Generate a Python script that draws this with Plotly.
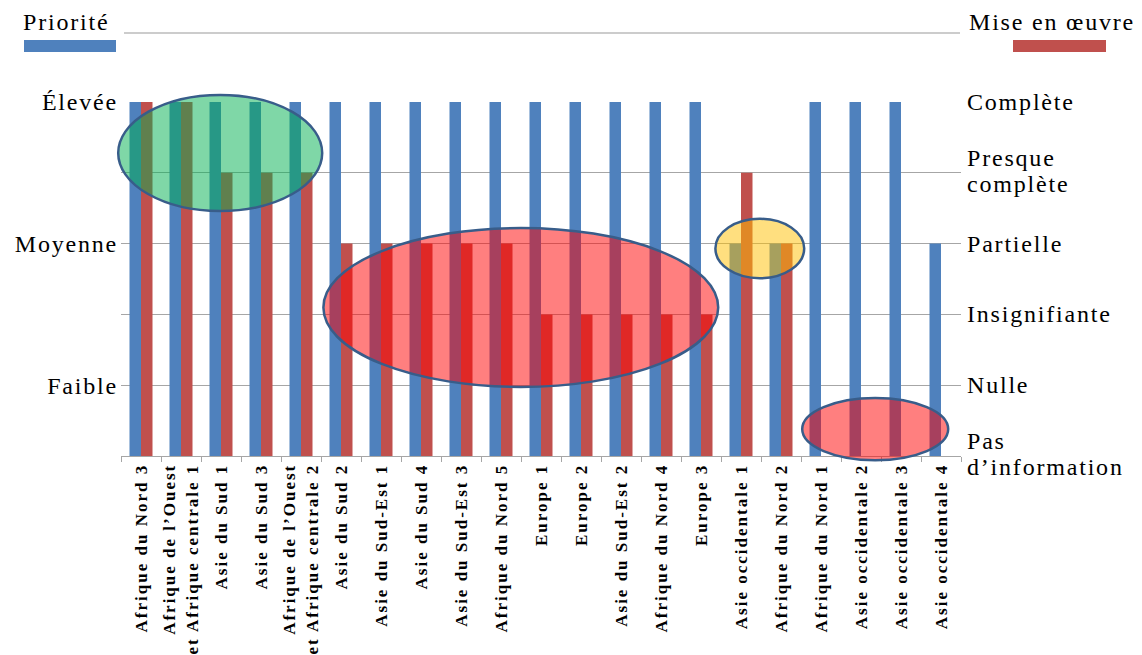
import plotly.graph_objects as go

# ---------------- data ----------------
categories = [
    "Afrique du Nord 3", "Afrique de l’Ouest\net Afrique centrale 1", "Asie du Sud 1",
    "Asie du Sud 3", "Afrique de l’Ouest\net Afrique centrale 2", "Asie du Sud 2",
    "Asie du Sud-Est 1", "Asie du Sud 4", "Asie du Sud-Est 3", "Afrique du Nord 5",
    "Europe 1", "Europe 2", "Asie du Sud-Est 2", "Afrique du Nord 4", "Europe 3",
    "Asie occidentale 1", "Afrique du Nord 2", "Afrique du Nord 1",
    "Asie occidentale 2", "Asie occidentale 3", "Asie occidentale 4",
]
priorite = [5, 5, 5, 5, 5, 5, 5, 5, 5, 5, 5, 5, 5, 5, 5, 3, 3, 5, 5, 5, 3]
mise_en_oeuvre = [5, 5, 4, 4, 4, 3, 3, 3, 3, 3, 2, 2, 2, 2, 2, 4, 3, 0, 0, 0, 0]
level_values = [0, 1, 2, 3, 4, 5]
priority_labels = ["", "Faible", "", "Moyenne", "", "Élevée"]
implementation_labels = ["Pas\nd’information", "Nulle", "Insignifiante",
                         "Partielle", "Presque\ncomplète", "Complète"]

# highlight ellipses in data units (category position, level)
ellipses = [
    dict(x0=-0.57, x1=4.53, y0=3.46, y1=5.10, fill="rgba(0,176,80,0.5)"),
    dict(x0=4.56, x1=14.43, y0=0.975, y1=3.22, fill="rgba(255,0,0,0.5)"),
    dict(x0=14.36, x1=16.58, y0=2.51, y1=3.35, fill="rgba(255,192,0,0.5)"),
    dict(x0=16.53, x1=20.18, y0=-0.06, y1=0.82, fill="rgba(255,0,0,0.5)"),
]

# ---------------- layout geometry ----------------
W_FIG, H_FIG = 1142, 655
L, R, T, B = 121, 181, 102, 199
PW, PH = W_FIG - L - R, H_FIG - T - B
N = len(categories)
YMAX = 5

BLUE = "#4f81bd"
RED = "#c0504d"
SERIF = "Liberation Serif, Times New Roman, Times, serif"
LABEL_SIZE = 24
LABEL_SP = 1.8


def spaced(text, sp):
    return "<br>".join(
        f'<span style="letter-spacing:{sp}px">{line}</span>' for line in text.split("\n")
    )


def px_x(p):
    return (p - L) / PW


def px_y(p):
    return (T + PH - p) / PH


fig = go.Figure()
fig.add_trace(go.Bar(x=categories, y=priorite, name="Priorité",
                     marker=dict(color=BLUE, line=dict(width=0)), hoverinfo="skip"))
fig.add_trace(go.Bar(x=categories, y=mise_en_oeuvre, name="Mise en œuvre",
                     marker=dict(color=RED, line=dict(width=0)), hoverinfo="skip"))

shapes = []
for e in ellipses:
    shapes.append(dict(
        type="circle", xref="paper", yref="paper", layer="above",
        x0=(e["x0"] + 0.5) / N, x1=(e["x1"] + 0.5) / N,
        y0=e["y0"] / YMAX, y1=e["y1"] / YMAX,
        fillcolor=e["fill"], line=dict(color="#385d8a", width=2.5),
    ))

# header decoration
shapes.append(dict(type="line", xref="paper", yref="paper",
                   x0=px_x(124), x1=px_x(960), y0=px_y(33), y1=px_y(33),
                   line=dict(color="#999999", width=1)))
shapes.append(dict(type="rect", xref="paper", yref="paper",
                   x0=px_x(24), x1=px_x(116), y0=px_y(52), y1=px_y(40),
                   fillcolor=BLUE, line=dict(width=0)))
shapes.append(dict(type="rect", xref="paper", yref="paper",
                   x0=px_x(1013), x1=px_x(1106), y0=px_y(52), y1=px_y(40),
                   fillcolor=RED, line=dict(width=0)))

label_font = dict(family=SERIF, size=LABEL_SIZE, color="black")
annotations = [
    dict(text=spaced("Priorité", LABEL_SP), xref="paper", yref="paper",
         x=px_x(21), y=px_y(22), xanchor="left", yanchor="middle", showarrow=False,
         font=label_font),
    dict(text=spaced("Mise en œuvre", LABEL_SP), xref="paper", yref="paper",
         x=px_x(967), y=px_y(22), xanchor="left", yanchor="middle", showarrow=False,
         font=label_font),
]

# right-hand implementation scale (one text per line for tight line spacing)
for lvl, lab in zip(level_values, implementation_labels):
    lines = lab.split("\n")
    shifts = [0] if len(lines) == 1 else [15, -11]
    for line, sh in zip(lines, shifts):
        annotations.append(dict(
            text=spaced(line, LABEL_SP), xref="paper", yref="y", x=1, y=lvl,
            xshift=4, yshift=sh, xanchor="left", yanchor="middle", showarrow=False,
            font=label_font,
        ))

fig.update_layout(
    template="none",
    width=W_FIG, height=H_FIG,
    margin=dict(l=L, r=R, t=T, b=B, autoexpand=False),
    paper_bgcolor="white", plot_bgcolor="white",
    barmode="group", bargap=0.425, bargroupgap=0,
    showlegend=False,
    shapes=shapes, annotations=annotations,
    xaxis=dict(
        type="category", range=[-0.5, N - 0.5], automargin=False,
        tickmode="array", tickvals=categories,
        ticktext=["<b>" + spaced(c, 2.0) + "</b>" for c in categories],
        tickangle=-90, tickson="boundaries", ticks="outside", ticklen=5,
        tickcolor="#a6a6a6", showline=True, linecolor="#a6a6a6", linewidth=1,
        showgrid=False, zeroline=False,
        tickfont=dict(family=SERIF, size=17, color="black"),
    ),
    yaxis=dict(
        range=[0, YMAX], automargin=False, tickmode="array",
        tickvals=level_values, ticktext=[spaced(t, LABEL_SP) for t in priority_labels],
        showgrid=True, gridcolor="#a6a6a6", gridwidth=1, zeroline=False,
        showline=False, ticks="", ticklabelstandoff=2,
        tickfont=label_font,
    ),
)

fig.write_html("out.html")
